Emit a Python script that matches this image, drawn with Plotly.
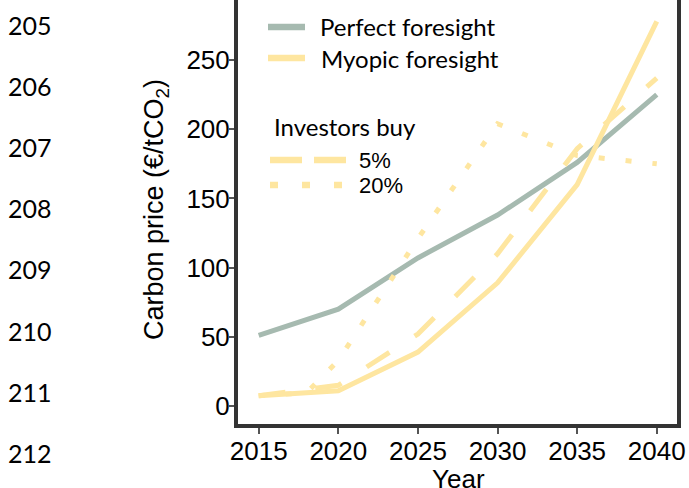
"""
Carbon price paths under perfect vs. myopic foresight (Plotly).
"""
import plotly.graph_objects as go

# data
years = [2015, 2020, 2025, 2030, 2035, 2040]
perfect = [51, 70, 107, 138, 176, 225]
myopic = [7.5, 11, 39, 89, 160, 278]
buy_5 = [7.5, 15, 52, 110, 186, 237]
years_20 = [2015, 2018, 2020, 2025, 2030, 2035, 2040]
buy_20 = [7.5, 9.5, 33, 121, 204, 181, 175]

line_numbers = ["205", "206", "207", "208", "209", "210", "211", "212"]
x_ticks = [2015, 2020, 2025, 2030, 2035, 2040]
y_ticks = [0, 50, 100, 150, 200, 250]

GRAY = "#a6bab0"
YELLOW = "#fee6a0"
FRAME = "#333333"

W, H = 689, 488
L, R, T, B = 238, 12, 0, 64
PW, PH = W - L - R, H - T - B


def px(x):
    return (x - L) / PW


def py(y):
    return (H - B - y) / PH


fig = go.Figure()
fig.add_trace(go.Scatter(x=years, y=perfect, mode="lines", name="Perfect foresight",
                         line=dict(color=GRAY, width=5)))
fig.add_trace(go.Scatter(x=years_20, y=buy_20, mode="lines", name="20%",
                         line=dict(color=YELLOW, width=5, dash="6px,21px")))
fig.add_trace(go.Scatter(x=years, y=buy_5, mode="lines", name="5%",
                         line=dict(color=YELLOW, width=5, dash="27px,30px")))
fig.add_trace(go.Scatter(x=years, y=myopic, mode="lines", name="Myopic foresight",
                         line=dict(color=YELLOW, width=5)))

# hand-made legend
keys = [
    (268, 305, 27, GRAY, "solid"),
    (268, 305, 58, YELLOW, "solid"),
    (270, 346, 160, YELLOW, "32px,12px"),
    (270, 342, 185, YELLOW, "8px,24px"),
]
for x0, x1, y0, col, dash in keys:
    fig.add_shape(type="line", xref="paper", yref="paper",
                  x0=px(x0), x1=px(x1), y0=py(y0), y1=py(y0),
                  line=dict(color=col, width=6.5, dash=dash))

cal = "Lato"
ari = "Arial"
labels = [
    ("Perfect foresight", 318, 27, cal, 24),
    ("Myopic foresight", 319, 58, cal, 24),
    ("Investors buy", 272, 126, cal, 24),
    ("5%", 357, 160, ari, 22),
    ("20%", 357, 185, ari, 22),
]
for txt, x0, y0, fam, size in labels:
    fig.add_annotation(text=txt, xref="paper", yref="paper", x=px(x0), y=py(y0),
                       xanchor="left", yanchor="middle", showarrow=False,
                       font=dict(family=fam, size=size, color="black"))

# manuscript line numbers on the left
for i, n in enumerate(line_numbers):
    fig.add_annotation(text=n, xref="paper", yref="paper", x=px(6), y=py(25 + i * 61.1),
                       xanchor="left", yanchor="middle", showarrow=False,
                       font=dict(family=cal, size=25, color="black"))

# axis titles
fig.add_annotation(text="Carbon price (€/tCO<sub>2</sub>)", xref="paper", yref="paper",
                   x=px(156), y=py(210), textangle=-90, xanchor="center", yanchor="middle",
                   showarrow=False, font=dict(family=ari, size=27, color="black"))
fig.add_annotation(text="Year", xref="paper", yref="paper", x=px(458), y=py(479),
                   xanchor="center", yanchor="middle", showarrow=False,
                   font=dict(family=ari, size=26, color="black"))

fig.update_xaxes(range=[2013.7, 2041.27], tickvals=x_ticks, showgrid=False, zeroline=False,
                 showline=True, linecolor=FRAME, linewidth=4, mirror=False,
                 ticks="outside", ticklen=6, tickwidth=1.5, tickcolor="#555",
                 ticklabelstandoff=-5,
                 tickfont=dict(family=ari, size=26, color="black"))
fig.update_yaxes(range=[-13, 293.4], tickvals=y_ticks, showgrid=False, zeroline=False,
                 showline=True, linecolor=FRAME, linewidth=4, mirror=True,
                 ticks="outside", ticklen=5, tickwidth=1.5, tickcolor="#555",
                 ticklabelstandoff=-6,
                 tickfont=dict(family=ari, size=26, color="black"))

fig.update_layout(width=W, height=H, margin=dict(l=L, r=R, t=T, b=B),
                  paper_bgcolor="white", plot_bgcolor="white", showlegend=False)

# the page body has an 8px default margin; drop it so the figure sits at 0,0
fig.write_html("out.html", config={"displayModeBar": False},
               post_script="document.body.style.margin='0';")
